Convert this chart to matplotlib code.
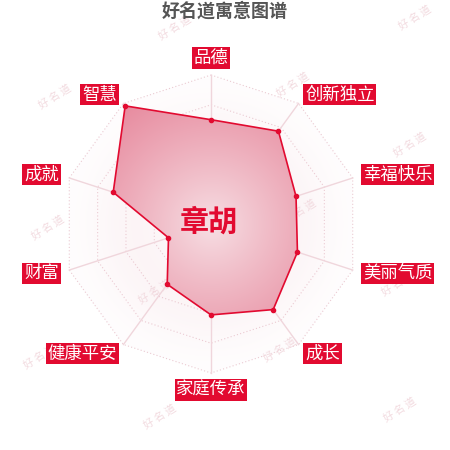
import numpy as np
import matplotlib
matplotlib.use("Agg")
import matplotlib.pyplot as plt
from matplotlib.patches import Polygon

plt.rcParams['font.family'] = ['Noto Sans CJK SC', 'DejaVu Sans']

title = "好名道寓意图谱"
name = "章胡"
categories = ["品德", "创新独立", "幸福快乐", "美丽气质", "成长",
              "家庭传承", "健康平安", "财富", "成就", "智慧"]
values = [70, 77, 60, 61, 71, 61, 50, 30, 69, 98]
max_value = 100

# watermark spots (pixel coords)
wm_x = [175, 415, 55, 293, 410, 48, 300, 155, 398, 40, 280, 160, 400]
wm_y = [28, 18, 97, 85, 145, 228, 212, 292, 284, 357, 350, 417, 410]

cx, cy, R = 211, 224, 149
red = '#e20a30'

fig = plt.figure(figsize=(4.5, 4.5), dpi=100)
ax = fig.add_axes([0, 0, 1, 1])
ax.set_xlim(0, 450)
ax.set_ylim(450, 0)
ax.axis('off')

n = len(categories)
ang = np.arange(n) * 2 * np.pi / n


def pts(r):
    return np.column_stack([cx + r * np.sin(ang), cy - r * np.cos(ang)])


# faint background inside outer ring
yy, xx = np.mgrid[0:450, 0:450]
dist = np.hypot(xx - cx, yy - cy) / R
bg = np.ones((450, 450, 4))
bg[..., 0] = 0.96
bg[..., 1] = 0.84
bg[..., 2] = 0.87
bg[..., 3] = np.clip(0.05 + 0.2 * np.sin(np.clip(dist, 0, 1) * np.pi) ** 2, 0, 1)
outer = Polygon(pts(R), closed=True, facecolor='none', edgecolor='none')
ax.add_patch(outer)
im = ax.imshow(bg, extent=(0, 450, 450, 0), zorder=1)
im.set_clip_path(outer)

# rings and spokes
for k in range(1, 6):
    p = pts(R * k / 5)
    p = np.vstack([p, p[:1]])
    ax.plot(p[:, 0], p[:, 1], color='#ebcad2', lw=0.8, ls=(0, (1, 2)), zorder=2)
for x, y in pts(R):
    ax.plot([cx, x], [cy, y], color='#f0d6dc', lw=1, zorder=2)

# watermarks
for x, y in zip(wm_x, wm_y):
    ax.text(x, y, "好 名 道", rotation=32, ha='center', va='center',
            fontsize=7.5, color='#f2dadf', zorder=2.5)

# data polygon with radial gradient
r_vals = np.array(values) / max_value * R
poly_pts = pts(r_vals)
poly = Polygon(poly_pts, closed=True, facecolor='none', edgecolor=red, lw=1.2, zorder=4)
ax.add_patch(poly)
t = np.clip(dist, 0, 1)
c0 = np.array([247, 224, 229]) / 255
c1 = np.array([231, 138, 158]) / 255
grad = np.ones((450, 450, 4))
for i in range(3):
    grad[..., i] = c0[i] + (c1[i] - c0[i]) * t ** 0.9
grad[..., 3] = 1.0
gim = ax.imshow(grad, extent=(0, 450, 450, 0), zorder=3)
gim.set_clip_path(poly)
ax.scatter(poly_pts[:, 0], poly_pts[:, 1], s=9, color=red, zorder=5)

# axis labels
for a, lab in zip(ang, categories):
    s, c = np.sin(a), np.cos(a)
    if abs(s) < 0.1:
        r = 157
        ha = 'center'
        va = 'bottom' if c > 0 else 'top'
    else:
        r = 160
        ha = 'left' if s > 0 else 'right'
        va = 'center'
    ax.text(cx + r * s, cy - r * c, lab, ha=ha, va=va, color='white',
            fontsize=12.5, zorder=7,
            bbox=dict(boxstyle='square,pad=0.1', fc=red, ec='none'))

ax.text(209, 222, name, ha='center', va='center', fontsize=21,
        fontweight='bold', color=red, zorder=8)
ax.text(225, 11, title, ha='center', va='center', fontsize=13,
        fontweight='bold', color='#555555', zorder=8)

fig.savefig('out.png', dpi=100)
